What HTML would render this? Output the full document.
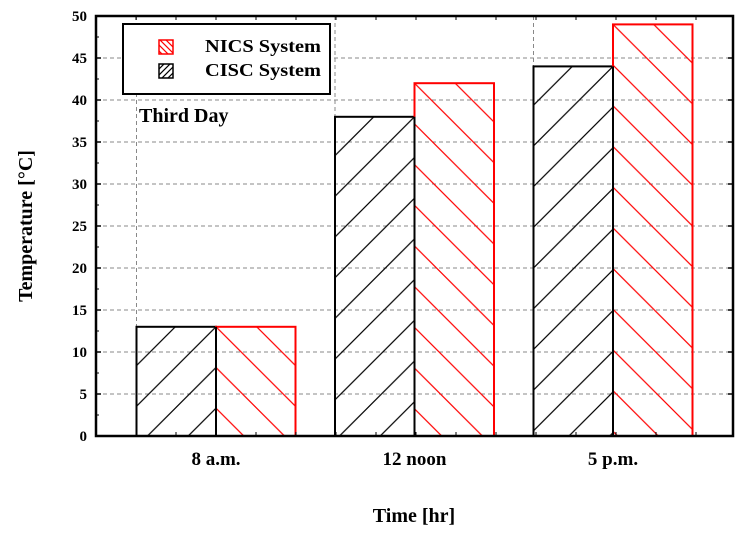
<!DOCTYPE html>
<html><head><meta charset="utf-8"><style>
body{margin:0;background:#fff}
svg{display:block;font-family:"Liberation Serif",serif}
</style></head><body>
<svg width="748" height="535">
<defs id="defs">
<pattern id="lc" patternUnits="userSpaceOnUse" width="6" height="6">
<path d="M0,6 L6,0 M-1,1 L1,-1 M5,7 L7,5" stroke="#000" stroke-width="1.2"/>
</pattern>
<pattern id="ln" patternUnits="userSpaceOnUse" width="6" height="6">
<path d="M0,0 L6,6 M-1,5 L1,7 M5,-1 L7,1" stroke="red" stroke-width="1.2"/>
</pattern>
</defs>
<g id="grid"></g>
<g id="bars"></g>
<g id="axes"></g>
<g>
<rect x="123" y="24" width="207" height="70" fill="#fff" stroke="#000" stroke-width="2"/>
<rect x="159" y="40" width="14" height="14" fill="url(#ln)" stroke="red" stroke-width="1.5"/>
<rect x="159" y="64" width="14" height="14" fill="url(#lc)" stroke="#000" stroke-width="1.5"/>
<text x="205" y="52" font-size="18" font-weight="bold" textLength="116" lengthAdjust="spacingAndGlyphs">NICS System</text>
<text x="205" y="76" font-size="18" font-weight="bold" textLength="116" lengthAdjust="spacingAndGlyphs">CISC System</text>
</g>
<text x="139" y="122" font-size="20" font-weight="bold">Third Day</text>
<text x="414" y="522" font-size="20" font-weight="bold" text-anchor="middle">Time [hr]</text>
<text transform="translate(32,226) rotate(-90)" font-size="20" font-weight="bold" text-anchor="middle">Temperature [°C]</text>
</svg>
<script>
const categories=["8 a.m.","12 noon","5 p.m."];
const cisc=[13,38,44];
const nics=[13,42,49];
const yTicks=[0,5,10,15,20,25,30,35,40,45,50];
const NS="http://www.w3.org/2000/svg";
const X0=96,X1=733,Y0=436,Y1=16;
const P=40.7;
const y=v=>Y0-(v/50)*(Y0-Y1);
const xc=i=>216+i*198.5;
const BW=79.5;
function mk(tag,at,parent){const e=document.createElementNS(NS,tag);for(const k in at)e.setAttribute(k,at[k]);parent.appendChild(e);return e;}
const defs=document.getElementById('defs');
function pat(id,off,dir,color){
const p=mk('pattern',{id:id,patternUnits:'userSpaceOnUse',x:off,y:0,width:P,height:P},defs);
const d=dir>0?`M0,${P} L${P},0 M-10,10 L10,-10 M${P-10},${P+10} L${P+10},${P-10}`:`M0,0 L${P},${P} M-10,${P-10} L10,${P+10} M${P-10},-10 L${P+10},10`;
mk('path',{d:d,stroke:color,'stroke-width':1.2},p);}
const mod=(a,m)=>((a%m)+m)%m;
const grid=document.getElementById('grid'),bars=document.getElementById('bars'),axes=document.getElementById('axes');
yTicks.forEach(t=>{if(t>0&&t<50){const l=mk('line',{x1:X0,x2:X1,y1:y(t),y2:y(t),stroke:'#888','stroke-dasharray':'4,3'},grid);

}});
categories.forEach((c,i)=>{const l=mk('line',{x1:xc(i)-BW,x2:xc(i)-BW,y1:Y1,y2:Y0,stroke:'#888','stroke-dasharray':'4,3'},grid);

});
categories.forEach((c,i)=>{
pat('hc'+i,mod(xc(i)+y(cisc[i]),P),1,'#000');
pat('hn'+i,mod(xc(i)-y(nics[i]),P),-1,'red');
const a=mk('rect',{x:xc(i)-BW,y:y(cisc[i]),width:BW,height:Y0-y(cisc[i]),fill:'url(#hc'+i+')',stroke:'#000','stroke-width':2},bars);


const b=mk('rect',{x:xc(i),y:y(nics[i]),width:BW,height:Y0-y(nics[i]),fill:'url(#hn'+i+')',stroke:'red','stroke-width':2},bars);


mk('line',{x1:xc(i),x2:xc(i),y1:y(cisc[i]),y2:Y0,stroke:'#000','stroke-width':2},bars);
const t=mk('text',{x:xc(i),y:465,'font-size':19,'font-weight':'bold','text-anchor':'middle'},axes);
t.textContent=c;


});
mk('rect',{x:X0,y:Y1,width:X1-X0,height:Y0-Y1,fill:'none',stroke:'#000','stroke-width':2.5},axes);
yTicks.forEach((t,k)=>{
mk('line',{x1:X0,x2:X0+5,y1:y(t),y2:y(t),stroke:'#000','stroke-width':1.5},axes);
mk('line',{x1:X1,x2:X1-5,y1:y(t),y2:y(t),stroke:'#000','stroke-width':1.5},axes);
if(k<yTicks.length-1){mk('line',{x1:X0,x2:X0+3,y1:y(t+2.5),y2:y(t+2.5),stroke:'#000'},axes);}
const tx=mk('text',{x:87,y:y(t)+5,'font-size':15,'font-weight':'bold','text-anchor':'end'},axes);
tx.textContent=t;


});
for(let x=X0+40;x<X1;x+=40){mk('line',{x1:x,x2:x,y1:Y0,y2:Y0-4,stroke:'#000'},axes);mk('line',{x1:x,x2:x,y1:Y1,y2:Y1+4,stroke:'#000'},axes);}
</script>
</body></html>
